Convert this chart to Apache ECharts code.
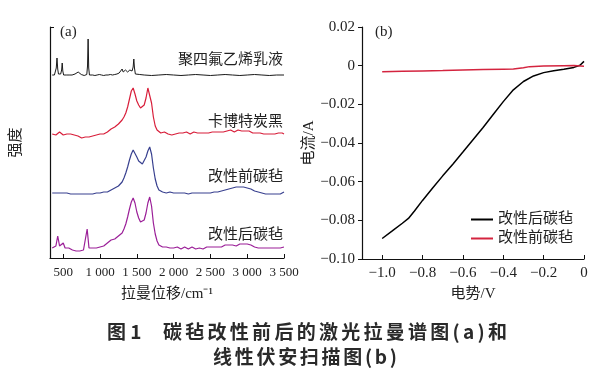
<!DOCTYPE html>
<html>
<head>
<meta charset="utf-8">
<script src="https://cdn.jsdelivr.net/npm/echarts@6/dist/echarts.min.js"></script>
<style>
html, body { margin: 0; padding: 0; background: #fff; }
#main { width: 607px; height: 375px; }
</style>
</head>
<body>
<div id="main"></div>
<script>
var chart = echarts.init(document.getElementById('main'));

// (a) 拉曼光谱，纵轴为任意单位（已含堆叠偏移）
var ramanX = [
    350, 375, 400, 425, 450, 475, 500, 525, 550, 575,
    600, 625, 650, 675, 700, 725, 750, 775, 800, 825,
    850, 875, 900, 925, 950, 975, 1000, 1025, 1050, 1075,
    1100, 1125, 1150, 1175, 1200, 1225, 1250, 1275, 1300, 1325,
    1350, 1375, 1400, 1425, 1450, 1475, 1500, 1525, 1550, 1575,
    1600, 1625, 1650, 1675, 1700, 1725, 1750, 1775, 1800, 1825,
    1850, 1875, 1900, 1925, 1950, 1975, 2000, 2025, 2050, 2075,
    2100, 2125, 2150, 2175, 2200, 2225, 2250, 2275, 2300, 2325,
    2350, 2375, 2400, 2425, 2450, 2475, 2500, 2525, 2550, 2575,
    2600, 2625, 2650, 2675, 2700, 2725, 2750, 2775, 2800, 2825,
    2850, 2875, 2900, 2925, 2950, 2975, 3000, 3025, 3050, 3075,
    3100, 3125, 3150, 3175, 3200, 3225, 3250, 3275, 3300, 3325,
    3350, 3375, 3400, 3425, 3450, 3475, 3500
];

var cabotY = [
    124, 125, 123, 124, 126, 124, 123, 125, 124, 123,
    124, 122, 123, 121, 122, 121, 120, 122, 121, 122,
    121, 123, 122, 124, 123, 122, 124, 125, 124, 126,
    126, 127, 129, 130, 131, 133, 134, 136, 138, 141,
    145, 151, 159, 167, 170, 164, 157, 153, 150, 150,
    153, 160, 170, 169, 155, 141, 132, 128, 126, 125,
    124, 126, 125, 124, 125, 123, 125, 124, 126, 125,
    124, 125, 124, 126, 125, 124, 125, 126, 124, 125,
    126, 125, 124, 125, 126, 125, 124, 126, 125, 126,
    125, 126, 127, 126, 125, 127, 126, 128, 127, 126,
    127, 128, 126, 127, 128, 127, 126, 127, 126, 125,
    126, 125, 124, 125, 126, 124, 125, 124, 125, 124,
    125, 124, 123, 125, 124, 125, 124
];

var beforeY = [
    65, 66, 65, 64, 65, 66, 65, 64, 65, 64,
    64, 63, 64, 63, 64, 63, 64, 63, 64, 63,
    64, 63, 64, 64, 65, 64, 65, 65, 66, 65,
    66, 67, 68, 69, 70, 71, 72, 74, 76, 80,
    85, 91, 98, 104, 108, 106, 101, 97, 95, 94,
    96, 101, 107, 111, 104, 90, 79, 72, 68, 67,
    66, 66, 65, 65, 66, 65, 65, 64, 65, 65,
    65, 64, 65, 65, 64, 65, 65, 64, 65, 65,
    65, 64, 65, 65, 65, 66, 65, 65, 66, 66,
    66, 67, 67, 67, 68, 68, 69, 69, 70, 70,
    71, 71, 71, 71, 71, 70, 70, 69, 69, 68,
    67, 67, 66, 66, 65, 65, 64, 64, 64, 64,
    64, 64, 64, 63, 64, 65, 66
];

var afterY = [
    10, 11, 12, 22, 12, 11, 15, 10, 9, 10,
    9, 8, 9, 7, 8, 7, 9, 8, 10, 29,
    10, 9, 10, 11, 10, 12, 11, 13, 12, 14,
    15, 16, 18, 17, 19, 21, 22, 23, 25, 29,
    34, 41, 49, 56, 60, 55, 46, 40, 36, 35,
    38, 45, 55, 61, 52, 35, 24, 17, 13, 12,
    11, 10, 11, 9, 10, 11, 10, 9, 11, 10,
    9, 10, 11, 10, 9, 10, 11, 10, 9, 10,
    10, 11, 9, 10, 11, 10, 11, 10, 11, 10,
    11, 12, 11, 12, 13, 12, 13, 12, 13, 13,
    12, 13, 14, 13, 14, 13, 14, 12, 13, 12,
    11, 12, 10, 11, 10, 11, 10, 9, 10, 11,
    10, 9, 10, 11, 10, 9, 11
];

var ptfe = [
    [350, 183], [365, 183.5], [380, 183], [395, 184], [405, 190], [415, 200], [425, 189], [435, 184],
    [450, 183], [465, 184], [478, 188], [486, 195], [494, 187], [505, 183], [520, 182.5], [540, 183],
    [560, 182], [580, 183], [600, 182.5], [620, 183], [640, 183.5], [660, 184], [680, 185], [703, 186],
    [725, 185], [745, 183.5], [765, 183], [785, 182.5], [805, 183], [820, 183.5], [830, 192], [838, 219],
    [846, 190], [856, 183], [875, 182.5], [900, 183], [930, 182.5], [960, 183], [990, 183.5], [1020, 183],
    [1050, 182.5], [1080, 183], [1110, 183], [1140, 183.5], [1170, 183], [1200, 183.5], [1230, 184],
    [1260, 185], [1285, 187], [1300, 189], [1315, 186], [1330, 186], [1345, 188], [1361, 189],
    [1375, 186], [1390, 185], [1405, 188], [1420, 190], [1435, 187], [1450, 191], [1459, 199],
    [1468, 190], [1480, 184], [1500, 183], [1540, 183.5], [1600, 183], [1700, 182.5], [1800, 183],
    [1900, 183.5], [2000, 183], [2100, 182.5], [2200, 183], [2300, 183.5], [2400, 183], [2500, 182.5],
    [2600, 183], [2700, 183.5], [2800, 183], [2900, 182.5], [3000, 183], [3100, 183.5], [3200, 183],
    [3300, 182.5], [3400, 183], [3500, 183]
];

var ramanNames = ['聚四氟乙烯乳液', '卡博特炭黑', '改性前碳毡', '改性后碳毡'];
var ramanTicks = [500, 1000, 1500, 2000, 2500, 3000, 3500];

// (b) 线性伏安扫描
var lsvAfter = [
    [-1.0, -0.0894], [-0.95, -0.0855], [-0.9, -0.0815], [-0.87, -0.0790], [-0.84, -0.0752],
    [-0.8, -0.0697], [-0.75, -0.0633], [-0.7, -0.0570], [-0.65, -0.0510], [-0.6, -0.0447],
    [-0.55, -0.0383], [-0.5, -0.0320], [-0.45, -0.0253], [-0.4, -0.0186], [-0.35, -0.0125],
    [-0.3, -0.0082], [-0.25, -0.0053], [-0.2, -0.0036], [-0.15, -0.0026], [-0.1, -0.0018],
    [-0.05, -0.0009], [-0.02, 0.0002], [0, 0.0022]
];
var lsvBefore = [
    [-1.0, -0.0031], [-0.9, -0.0029], [-0.8, -0.0027], [-0.7, -0.0025], [-0.6, -0.0022],
    [-0.5, -0.0020], [-0.4, -0.0018], [-0.35, -0.0017], [-0.3, -0.0011], [-0.27, -0.0005],
    [-0.2, -0.0002], [-0.1, 0.0], [-0.05, 0.0001], [0, -0.0003]
];
var lsvNames = ['改性后碳毡', '改性前碳毡'];
var voltTicks = [-1.0, -0.8, -0.6, -0.4, -0.2, 0];

var captionLines = [
    { head: '图 1', body: '碳毡改性前后的激光拉曼谱图(a)和', from: 163, to: 507, y: 332 },
    { head: '', body: '线性伏安扫描图(b)', from: 213, to: 397, y: 357 }
];

function zip(xs, ys) {
    var out = [];
    for (var i = 0; i < xs.length; i++) out.push([xs[i], ys[i]]);
    return out;
}

function minus(v, d) {
    if (Math.abs(v) < 1e-9) return '0';
    return (v < 0 ? '\u2212' : '') + Math.abs(v).toFixed(d);
}

var font = "'Liberation Serif', 'Noto Sans CJK SC', serif";
var axisColor = '#111';

function label(text, x, y, align) {
    return {
        type: 'text', x: x, y: y, silent: true,
        style: {
            text: text, fill: '#222', font: '15px ' + font,
            textAlign: align, align: align, textVerticalAlign: 'middle', verticalAlign: 'middle'
        }
    };
}

// 图题逐字排版（原图字距较宽）
var capFont = 'bold 19px "Noto Sans CJK SC"';
var measureCtx = document.createElement('canvas').getContext('2d');
measureCtx.font = capFont;
function spacedText(str, from, to, y) {
    var chars = Array.from(str), widths = [], total = 0;
    chars.forEach(function (c) { var w = measureCtx.measureText(c).width; widths.push(w); total += w; });
    var gap = chars.length > 1 ? (to - from - total) / (chars.length - 1) : 0;
    var x = from, els = [];
    chars.forEach(function (c, i) {
        els.push({
            type: 'text', x: x, y: y, silent: true,
            style: { text: c, fill: '#2a2a2a', font: capFont, textAlign: 'left', align: 'left',
                     textVerticalAlign: 'middle', verticalAlign: 'middle' }
        });
        x += widths[i] + gap;
    });
    return els;
}

var graphics = [
    label('(a)', 60, 32, 'left'),
    label('(b)', 375, 32, 'left'),
    label(ramanNames[0], 283, 60, 'right'),
    label(ramanNames[1], 283, 122, 'right'),
    label(ramanNames[2], 283, 177, 'right'),
    label(ramanNames[3], 283, 235, 'right')
];
captionLines.forEach(function (ln) {
    if (ln.head) {
        graphics.push({
            type: 'text', x: 107, y: ln.y, silent: true,
            style: { text: ln.head, fill: '#2a2a2a', font: capFont, textAlign: 'left', align: 'left',
                     textVerticalAlign: 'middle', verticalAlign: 'middle' }
        });
    }
    graphics = graphics.concat(spacedText(ln.body, ln.from, ln.to, ln.y));
});

var option = {
    animation: false,
    backgroundColor: '#fff',
    textStyle: { fontFamily: font, color: '#222' },
    grid: [
        { left: 50, top: 27, width: 234, height: 231 },
        { left: 362, top: 27, width: 222, height: 232 }
    ],
    xAxis: [
        {
            gridIndex: 0, type: 'value', min: 320, max: 3500,
            name: '拉曼位移/cm\u207B\u00B9', nameLocation: 'middle', nameGap: 29,
            nameTextStyle: { fontSize: 15, color: '#222', fontFamily: font },
            axisLine: { lineStyle: { color: axisColor, width: 1.2 } },
            axisTick: { show: true, inside: true, length: 4, customValues: ramanTicks, lineStyle: { color: axisColor } },
            axisLabel: {
                customValues: ramanTicks, margin: 8, fontSize: 13, color: '#222', fontFamily: font,
                formatter: function (v) {
                    return v >= 1000 ? Math.floor(v / 1000) + ' ' + String(v % 1000).padStart(3, '0') : String(v);
                }
            },
            splitLine: { show: false }
        },
        {
            gridIndex: 1, type: 'value', min: -1.1, max: 0,
            name: '电势/V', nameLocation: 'middle', nameGap: 28,
            nameTextStyle: { fontSize: 15, color: '#222', fontFamily: font },
            axisLine: { onZero: false, lineStyle: { color: axisColor, width: 1.2 } },
            axisTick: { show: true, inside: true, length: 4, customValues: voltTicks, lineStyle: { color: axisColor } },
            axisLabel: {
                customValues: voltTicks, margin: 7, fontSize: 15, color: '#222', fontFamily: font,
                formatter: function (v) { return minus(v, 1); }
            },
            splitLine: { show: false }
        }
    ],
    yAxis: [
        {
            gridIndex: 0, type: 'value', min: 0, max: 231,
            name: '强度', nameLocation: 'middle', nameGap: 26,
            nameTextStyle: { fontSize: 15, color: '#222', fontFamily: font },
            axisLine: { show: true, lineStyle: { color: axisColor, width: 1.2 } },
            axisTick: { show: true, inside: true, length: 4, customValues: [231], lineStyle: { color: axisColor } },
            axisLabel: { show: false },
            splitLine: { show: false }
        },
        {
            gridIndex: 1, type: 'value', min: -0.1, max: 0.02, interval: 0.02,
            name: '电流/A', nameLocation: 'middle', nameGap: 45,
            nameTextStyle: { fontSize: 15, color: '#222', fontFamily: font },
            axisLine: { show: true, onZero: false, lineStyle: { color: axisColor, width: 1.2 } },
            axisTick: { show: true, inside: false, length: 4, lineStyle: { color: axisColor } },
            axisLabel: {
                margin: 7, fontSize: 15, color: '#222', fontFamily: font,
                formatter: function (v) { return minus(v, 2); }
            },
            splitLine: { show: false }
        }
    ],
    legend: {
        orient: 'vertical', left: 471, top: 212, itemWidth: 22, itemHeight: 2, itemGap: 4,
        icon: 'rect', symbolKeepAspect: false,
        padding: 0, data: lsvNames,
        textStyle: { fontSize: 15, color: '#222', fontFamily: font }
    },
    series: [
        { name: 'raman-ptfe', type: 'line', xAxisIndex: 0, yAxisIndex: 0, symbol: 'none',
          lineStyle: { color: '#1a1a1a', width: 1 }, data: ptfe },
        { name: 'raman-cabot', type: 'line', xAxisIndex: 0, yAxisIndex: 0, symbol: 'none',
          lineStyle: { color: '#d81e3a', width: 1.2 }, data: zip(ramanX, cabotY) },
        { name: 'raman-before', type: 'line', xAxisIndex: 0, yAxisIndex: 0, symbol: 'none',
          lineStyle: { color: '#38408f', width: 1.2 }, data: zip(ramanX, beforeY) },
        { name: 'raman-after', type: 'line', xAxisIndex: 0, yAxisIndex: 0, symbol: 'none',
          lineStyle: { color: '#9b1f98', width: 1.2 }, data: zip(ramanX, afterY) },
        { name: lsvNames[0], type: 'line', xAxisIndex: 1, yAxisIndex: 1, symbol: 'none',
          itemStyle: { color: '#000' }, lineStyle: { color: '#000', width: 1.5 }, data: lsvAfter },
        { name: lsvNames[1], type: 'line', xAxisIndex: 1, yAxisIndex: 1, symbol: 'none',
          itemStyle: { color: '#d4243f' }, lineStyle: { color: '#d4243f', width: 1.5 }, data: lsvBefore }
    ],
    graphic: graphics
};

chart.setOption(option);
</script>
</body>
</html>
